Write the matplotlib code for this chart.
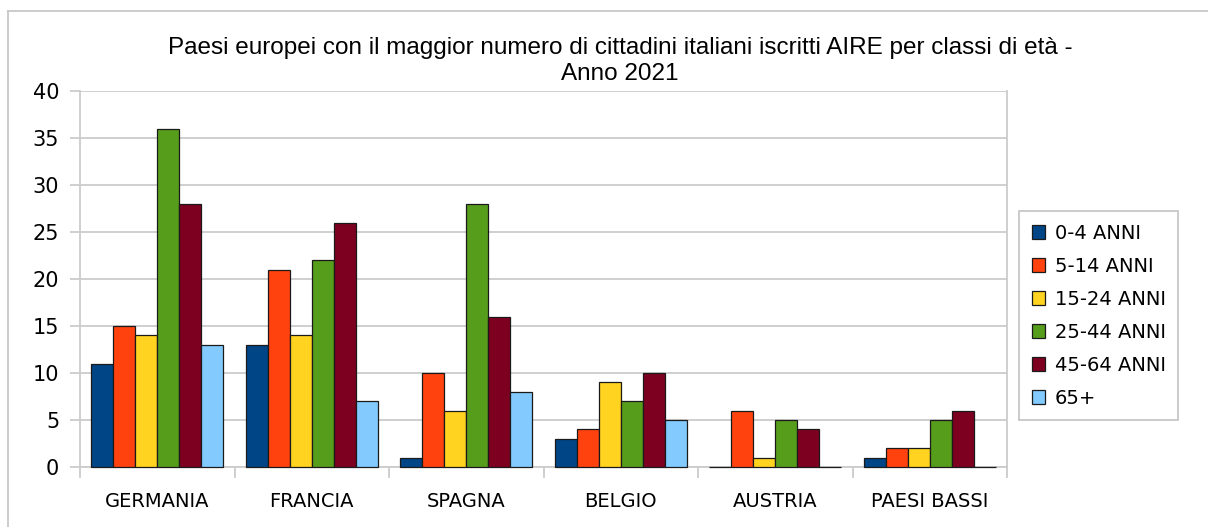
import matplotlib.pyplot as plt
import numpy as np
from matplotlib.lines import Line2D

plt.rcParams['font.family'] = ['DejaVu Sans']

paesi = ['GERMANIA', 'FRANCIA', 'SPAGNA', 'BELGIO', 'AUSTRIA', 'PAESI BASSI']
classi = ['0-4 ANNI', '5-14 ANNI', '15-24 ANNI', '25-44 ANNI', '45-64 ANNI', '65+']
anni_0_4 = [11, 13, 1, 3, 0, 1]
anni_5_14 = [15, 21, 10, 4, 6, 2]
anni_15_24 = [14, 14, 6, 9, 1, 2]
anni_25_44 = [36, 22, 28, 7, 5, 5]
anni_45_64 = [28, 26, 16, 10, 4, 6]
anni_65 = [13, 7, 8, 5, 0, 0]
colori = ['#004586', '#ff420e', '#ffd320', '#579d1c', '#7e0021', '#83caff']

serie = [anni_0_4, anni_5_14, anni_15_24, anni_25_44, anni_45_64, anni_65]

W, H = 1208, 527
fig = plt.figure(figsize=(W / 100, H / 100), dpi=100)
ax = fig.add_axes([80 / W, 1 - 467 / H, (1007 - 80) / W, (467 - 91) / H])

x = np.arange(len(paesi))
larg = 0.1425
for i, (vals, col, lab) in enumerate(zip(serie, colori, classi)):
    ax.bar(x - 3 * larg + (i + 0.5) * larg, vals, width=larg, color=col,
           edgecolor='#1a1a1a', linewidth=0.9, label=lab, zorder=3,
           clip_on=False)

ax.set_xlim(-0.5, len(paesi) - 0.5)
ax.set_ylim(0, 40)
ax.set_yticks(range(0, 41, 5))
ax.yaxis.grid(True, color='#cccccc', linewidth=1.3, zorder=0)
ax.spines['top'].set_visible(False)
for s in ['left', 'bottom', 'right']:
    ax.spines[s].set_color('#cccccc')
    ax.spines[s].set_linewidth(1.3)

ax.set_xticks(np.arange(-0.5, len(paesi), 1))
ax.set_xticklabels([])
ax.set_xticks(x, minor=True)
ax.set_xticklabels(paesi, minor=True, fontsize=14)
ax.tick_params(axis='x', which='major', length=8, color='#cccccc', width=1.3)
ax.tick_params(axis='x', which='minor', length=0, pad=18)
ax.tick_params(axis='y', length=7, color='#cccccc', width=1.3, pad=8,
               labelsize=15)

fig.text(620 / W, 1 - 61 / H,
         'Paesi europei con il maggior numero di cittadini italiani iscritti AIRE per classi di età -\nAnno 2021',
         ha='center', va='center', fontsize=17.5, family='Liberation Sans',
         linespacing=1.24)

leg = fig.legend(loc='upper left', bbox_to_anchor=(1019 / W, 1 - 211 / H),
                 fontsize=14, frameon=True, fancybox=False, edgecolor='#b3b3b3',
                 handlelength=0.68, handleheight=0.68, handletextpad=0.5,
                 labelspacing=0.72, borderpad=0.65, borderaxespad=0)
leg.get_frame().set_linewidth(1.2)
for h in leg.legend_handles:
    h.set_linewidth(0.9)

fig.add_artist(Line2D([8 / W, 8 / W], [0, 1 - 11 / H], color='#c8c8c8', lw=1.3,
                      transform=fig.transFigure))
fig.add_artist(Line2D([8 / W, 1], [1 - 11 / H, 1 - 11 / H], color='#c8c8c8', lw=1.3,
                      transform=fig.transFigure))

fig.savefig('out.png', dpi=100)
